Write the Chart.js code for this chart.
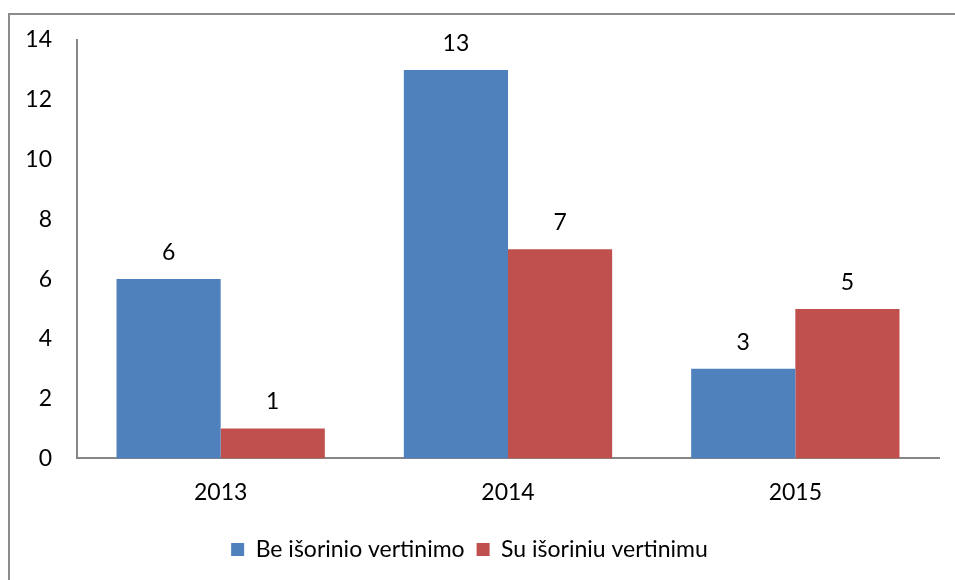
<!DOCTYPE html>
<html>
<head>
<meta charset="utf-8">
<script src="https://cdn.jsdelivr.net/npm/chart.js@4"></script>
<style>
  body { margin: 0; background: #fff; }
  #wrap { position: relative; width: 955px; height: 580px; }
  #frame { position: absolute; left: 8px; top: 13px; width: 960px; height: 580px;
           border-left: 2px solid #8c8c8c; border-top: 2px solid #8c8c8c; box-sizing: border-box; }
  canvas { position: absolute; left: 0; top: 0; }
</style>
</head>
<body>
<div id="wrap">
  <div id="frame"></div>
  <canvas id="chart" width="955" height="580"></canvas>
</div>
<script>
  // Datos del gráfico
  const years = ["2013", "2014", "2015"];
  const beIsorinio = [6, 13, 3];
  const suIsoriniu = [1, 7, 5];
  const seriesNames = ["Be išorinio vertinimo", "Su išoriniu vertinimu"];

  const fontFamily = "Lato, 'Open Sans', sans-serif";
  const fontSize = 23;

  // Etiquetas de valor encima de cada barra
  const valueLabels = {
    id: "valueLabels",
    afterDatasetsDraw(chart) {
      const ctx = chart.ctx;
      ctx.save();
      ctx.font = fontSize + "px " + fontFamily;
      ctx.fillStyle = "#000";
      ctx.textAlign = "center";
      ctx.textBaseline = "bottom";
      chart.data.datasets.forEach((ds, i) => {
        chart.getDatasetMeta(i).data.forEach((bar, j) => {
          ctx.fillText(ds.data[j], bar.x, bar.y - 15);
        });
      });
      ctx.restore();
    },
  };

  new Chart(document.getElementById("chart").getContext("2d"), {
    type: "bar",
    data: {
      labels: years,
      datasets: [
        { label: seriesNames[0], data: beIsorinio, backgroundColor: "#4F81BD" },
        { label: seriesNames[1], data: suIsoriniu, backgroundColor: "#C0504D" },
      ],
    },
    options: {
      responsive: false,
      animation: false,
      layout: { padding: { top: 40, right: 16, bottom: 9, left: 0 } },
      datasets: { bar: { categoryPercentage: 0.725, barPercentage: 1 } },
      scales: {
        x: {
          grid: { display: false, drawTicks: false },
          border: { display: true, color: "#868686", width: 2 },
          ticks: { color: "#000", font: { family: fontFamily, size: fontSize }, padding: 20 },
        },
        y: {
          min: 0,
          max: 14,
          afterFit(scale) { scale.width = 77; },
          grid: { display: false, drawTicks: false },
          border: { display: true, color: "#868686", width: 2 },
          ticks: { stepSize: 2, color: "#000", font: { family: fontFamily, size: fontSize }, padding: 25 },
        },
      },
      plugins: {
        tooltip: { enabled: false },
        legend: {
          position: "bottom",
          labels: {
            color: "#000",
            font: { family: fontFamily, size: fontSize },
            boxWidth: 13,
            boxHeight: 13,
            padding: 12,
          },
        },
      },
    },
    plugins: [valueLabels],
  });
</script>
</body>
</html>
